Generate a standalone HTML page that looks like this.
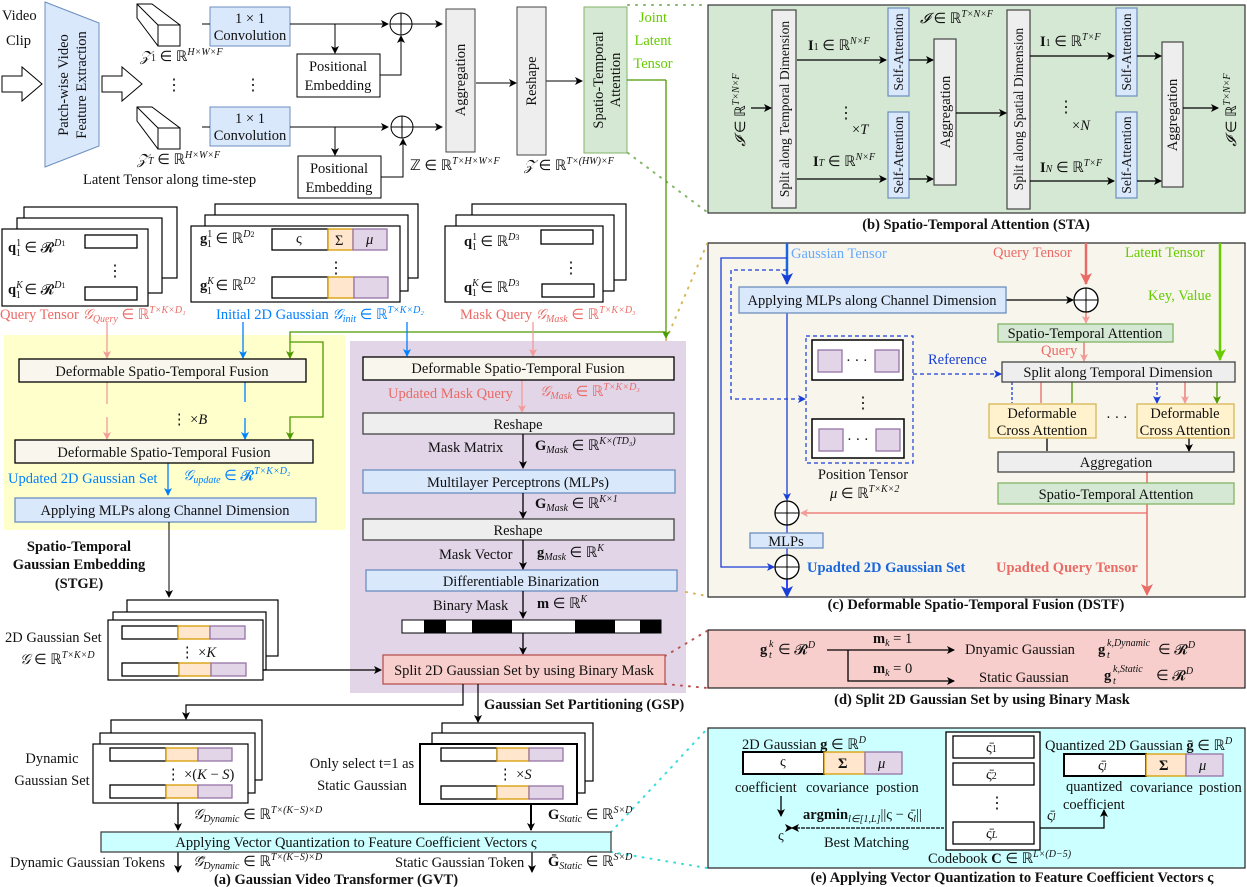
<!DOCTYPE html>
<html><head><meta charset="utf-8"><style>
body{margin:0;background:#fff}
svg{display:block;font-family:"Liberation Serif",serif;font-size:14.5px}
.t{fill:#111}
.b{font-weight:bold}
.i{font-style:italic}
.s{font-size:13.5px}
</style></head><body>
<svg width="1247" height="887" viewBox="0 0 1247 887" xmlns="http://www.w3.org/2000/svg">
<defs>
<marker id="ak" markerWidth="8" markerHeight="8" refX="7" refY="4" orient="auto" markerUnits="userSpaceOnUse"><path d="M0,0 L8,4 L0,8 L2,4z" fill="#000"/></marker>
<marker id="ap" markerWidth="8" markerHeight="8" refX="7" refY="4" orient="auto" markerUnits="userSpaceOnUse"><path d="M0,0 L8,4 L0,8 L2,4z" fill="#f19c99"/></marker>
<marker id="ar" markerWidth="12" markerHeight="12" refX="11" refY="6" orient="auto" markerUnits="userSpaceOnUse"><path d="M0,0 L12,6 L0,12 L3,6z" fill="#ea6b66"/></marker>
<marker id="ab" markerWidth="8" markerHeight="8" refX="7" refY="4" orient="auto" markerUnits="userSpaceOnUse"><path d="M0,0 L8,4 L0,8 L2,4z" fill="#007fff"/></marker>
<marker id="abd" markerWidth="8" markerHeight="8" refX="7" refY="4" orient="auto" markerUnits="userSpaceOnUse"><path d="M0,0 L8,4 L0,8 L2,4z" fill="#1a3fd6"/></marker>
<marker id="abb" markerWidth="12" markerHeight="12" refX="11" refY="6" orient="auto" markerUnits="userSpaceOnUse"><path d="M0,0 L12,6 L0,12 L3,6z" fill="#1a3fd6"/></marker>
<marker id="ag" markerWidth="8" markerHeight="8" refX="7" refY="4" orient="auto" markerUnits="userSpaceOnUse"><path d="M0,0 L8,4 L0,8 L2,4z" fill="#4d9900"/></marker>
<marker id="agb" markerWidth="12" markerHeight="12" refX="11" refY="6" orient="auto" markerUnits="userSpaceOnUse"><path d="M0,0 L12,6 L0,12 L3,6z" fill="#66cc00"/></marker>
</defs>

<rect x="4" y="335" width="341" height="195" fill="#ffffcc"/>
<rect x="350" y="341" width="336" height="352" fill="#e1d5e7"/>
<rect x="708" y="5" width="537" height="208" fill="#d5e8d4" stroke="#333" stroke-width="1.2"/>
<rect x="708" y="243" width="537" height="354" fill="#f8f5ec" stroke="#222" stroke-width="1.2"/>
<rect x="708" y="630" width="537" height="58" fill="#f8cecc" stroke="#222" stroke-width="1.2"/>
<rect x="708" y="728" width="537" height="140" fill="#ccffff" stroke="#222" stroke-width="1.2"/>

<g stroke-width="2" stroke-dasharray="1,7" fill="none" stroke-linecap="round">
<path d="M628,5 L707,5 M628,153 L707,212" stroke="#82b366"/>
<path d="M666,340 L707,244 M686,592 L707,596" stroke="#d6b656"/>
<path d="M665,656 L707,631 M665,684 L707,688" stroke="#b85450"/>
<path d="M611,832 L707,729 M611,852 L707,868" stroke="#33dddd"/>
</g>

<!-- TOP ROW -->
<text x="2" y="20" class="t">Video</text><text x="6" y="45" class="t">Clip</text>
<path d="M2,76 L22,76 L22,67 L42,84 L22,101 L22,92 L2,92z" fill="#fff" stroke="#000"/>
<path d="M45,2 L99,23 L99,146 L45,167z" fill="#dae8fc" stroke="#6c8ebf"/>
<text transform="translate(68,85) rotate(-90)" text-anchor="middle" class="t">Patch-wise Video</text>
<text transform="translate(86,85) rotate(-90)" text-anchor="middle" class="t">Feature Extraction</text>
<path d="M102,76 L122,76 L122,67 L142,84 L122,101 L122,92 L102,92z" fill="#fff" stroke="#000"/>
<g fill="#fff" stroke="#000">
<path d="M137,4 L152,4 L180,25 L180,46 L158,46 L137,18z"/><path d="M158,25 L180,25 L180,46 L158,46z"/><path d="M137,4 L158,25"/>
<path d="M137,107 L152,107 L180,128 L180,149 L158,149 L137,121z"/><path d="M158,128 L180,128 L180,149 L158,149z"/><path d="M137,107 L158,128"/>
</g>
<text x="140" y="61" class="t"><tspan class="i">𝒵</tspan><tspan font-size="10">1</tspan> ∈ ℝ<tspan font-size="10" dy="-6" class="i">H×W×F</tspan></text>
<text x="137" y="164" class="t"><tspan class="i">𝒵</tspan><tspan font-size="10" class="i">T</tspan> ∈ ℝ<tspan font-size="10" dy="-6" class="i">H×W×F</tspan></text>
<text x="83" y="184" class="t">Latent Tensor along time-step</text>
<text x="166" y="90" class="t" font-size="16">⋮</text><text x="245" y="90" class="t" font-size="16">⋮</text>
<rect x="210" y="7" width="80" height="39" fill="#dae8fc" stroke="#6c8ebf"/>
<text x="250" y="23" text-anchor="middle" class="t">1 × 1</text><text x="250" y="40" text-anchor="middle" class="t">Convolution</text>
<rect x="210" y="107" width="80" height="39" fill="#dae8fc" stroke="#6c8ebf"/>
<text x="250" y="123" text-anchor="middle" class="t">1 × 1</text><text x="250" y="140" text-anchor="middle" class="t">Convolution</text>
<g stroke="#000" fill="none">
<path d="M202,24 L210,24 M290,24 L388,24" marker-end="url(#ak)"/>
<path d="M202,127 L210,127 M290,127 L388,127" marker-end="url(#ak)"/>
<path d="M335,24 L335,53" marker-end="url(#ak)"/>
<path d="M335,127 L335,155" marker-end="url(#ak)"/>
<path d="M380,75 L401,75 L401,36" marker-end="url(#ak)"/>
<path d="M380,177 L403,177 L403,139" marker-end="url(#ak)"/>
<path d="M412,24 L442,24" marker-end="url(#ak)"/>
<path d="M413,127 L442,127" marker-end="url(#ak)"/>
<path d="M476,83 L516,83" marker-end="url(#ak)"/>
<path d="M546,81 L582,81" marker-end="url(#ak)"/>
</g>
<rect x="297" y="54" width="83" height="43" fill="#fff" stroke="#000"/>
<text x="338" y="71" text-anchor="middle" class="t">Positional</text><text x="338" y="90" text-anchor="middle" class="t">Embedding</text>
<rect x="298" y="156" width="83" height="42" fill="#fff" stroke="#000"/>
<text x="339" y="173" text-anchor="middle" class="t">Positional</text><text x="339" y="192" text-anchor="middle" class="t">Embedding</text>
<g fill="#fff" stroke="#000"><circle cx="401" cy="24" r="11"/><circle cx="402" cy="127" r="11"/></g>
<path d="M390,24 H412 M401,13 V35 M391,127 H413 M402,116 V138" stroke="#000"/>
<rect x="446" y="9" width="29" height="143" fill="#eeeeee" stroke="#444"/>
<text transform="translate(465,80) rotate(-90)" text-anchor="middle" class="t">Aggregation</text>
<rect x="517" y="7" width="29" height="148" fill="#eeeeee" stroke="#444"/>
<text transform="translate(536,81) rotate(-90)" text-anchor="middle" class="t">Reshape</text>
<rect x="584" y="7" width="43" height="146" fill="#d5e8d4" stroke="#82b366"/>
<text transform="translate(603,80) rotate(-90)" text-anchor="middle" class="t">Spatio-Temporal</text>
<text transform="translate(620,80) rotate(-90)" text-anchor="middle" class="t">Attention</text>
<text x="653" y="22" text-anchor="middle" fill="#66cc00">Joint</text>
<text x="653" y="45" text-anchor="middle" fill="#66cc00">Latent</text>
<text x="653" y="68" text-anchor="middle" fill="#66cc00">Tensor</text>
<text x="410" y="170" class="t">ℤ ∈ ℝ<tspan font-size="10" dy="-6" class="i">T×H×W×F</tspan></text>
<text x="524" y="170" class="t"><tspan class="i">𝒵</tspan> ∈ ℝ<tspan font-size="10" dy="-6" class="i">T×(HW)×F</tspan></text>

<!-- CARDS -->
<g fill="#fff" stroke="#000" stroke-width="1.2">
<rect x="24" y="207" width="153" height="71"/><rect x="17" y="218" width="145" height="75"/><rect x="2" y="229" width="146" height="77"/>
<rect x="215" y="204" width="203" height="74"/><rect x="205" y="215" width="203" height="76"/><rect x="191" y="226" width="209" height="76"/>
<rect x="472" y="204" width="154" height="76"/><rect x="456" y="215" width="158" height="76"/><rect x="445" y="226" width="158" height="76"/>
</g>
<g stroke="#000" stroke-width="1.3" fill="#fff">
<rect x="85" y="235" width="52" height="13"/><rect x="85" y="287" width="52" height="13"/>
<rect x="541" y="230" width="52" height="14"/><rect x="542" y="284" width="52" height="13"/>
</g>
<text x="8" y="252" class="t"><tspan class="b">q</tspan><tspan font-size="10" dy="-6">1</tspan><tspan font-size="10" dx="-5" dy="10">1</tspan><tspan dy="-4"> ∈ 𝓡</tspan><tspan font-size="10" dy="-6" class="i">D</tspan><tspan font-size="8">1</tspan></text>
<text x="8" y="294" class="t"><tspan class="b">q</tspan><tspan font-size="10" dy="-6" class="i">K</tspan><tspan font-size="10" dx="-7" dy="10">1</tspan><tspan dy="-4"> ∈ 𝓡</tspan><tspan font-size="10" dy="-6" class="i">D</tspan><tspan font-size="8">1</tspan></text>
<text x="107" y="276" class="t" font-size="16">⋮</text>
<text x="200" y="243" class="t"><tspan class="b">g</tspan><tspan font-size="10" dy="-6">1</tspan><tspan font-size="10" dx="-5" dy="10">1</tspan><tspan dy="-4"> ∈ ℝ</tspan><tspan font-size="10" dy="-6" class="i">D</tspan><tspan font-size="8">2</tspan></text>
<text x="200" y="290" class="t"><tspan class="b">g</tspan><tspan font-size="10" dy="-6" class="i">K</tspan><tspan font-size="10" dx="-7" dy="10">1</tspan><tspan dy="-4"> ∈ ℝ</tspan><tspan font-size="10" dy="-6" class="i">D2</tspan></text>
<g stroke-width="1.3"><rect x="272" y="229" width="56" height="21" fill="#fff" stroke="#000"/><rect x="328" y="229" width="25" height="21" fill="#ffe6cc" stroke="#d79b00"/><rect x="353" y="229" width="34" height="21" fill="#e1d5e7" stroke="#9673a6"/>
<rect x="272" y="277" width="56" height="21" fill="#fff" stroke="#000"/><rect x="328" y="277" width="26" height="21" fill="#ffe6cc" stroke="#d79b00"/><rect x="354" y="277" width="34" height="21" fill="#e1d5e7" stroke="#9673a6"/></g>
<text x="296" y="243" class="t">ς</text><text x="335" y="245" class="t">Σ</text><text x="366" y="244" class="t i">μ</text>
<text x="328" y="273" class="t" font-size="16">⋮</text>
<text x="464" y="246" class="t"><tspan class="b">q</tspan><tspan font-size="10" dy="-6">1</tspan><tspan font-size="10" dx="-5" dy="10">1</tspan><tspan dy="-4"> ∈ ℝ</tspan><tspan font-size="10" dy="-6" class="i">D</tspan><tspan font-size="8">3</tspan></text>
<text x="464" y="292" class="t"><tspan class="b">q</tspan><tspan font-size="10" dy="-6" class="i">K</tspan><tspan font-size="10" dx="-7" dy="10">1</tspan><tspan dy="-4"> ∈ ℝ</tspan><tspan font-size="10" dy="-6" class="i">D</tspan><tspan font-size="8">3</tspan></text>
<text x="563" y="273" class="t" font-size="16">⋮</text>
<text x="0" y="319" fill="#ea6b66">Query Tensor  <tspan class="i">𝒢</tspan><tspan font-size="10" class="i" dy="3">Query</tspan><tspan dy="-3"> ∈ ℝ</tspan><tspan font-size="10" class="i" dy="-6">T×K×D₁</tspan></text>
<text x="216" y="319" fill="#007fff">Initial 2D Gaussian  <tspan class="i">𝒢</tspan><tspan font-size="10" class="i" dy="3">init</tspan><tspan dy="-3"> ∈ ℝ</tspan><tspan font-size="10" class="i" dy="-6">T×K×D₂</tspan></text>
<text x="460" y="319" fill="#ea6b66">Mask Query  <tspan class="i">𝒢</tspan><tspan font-size="10" class="i" dy="3">Mask</tspan><tspan dy="-3"> ∈ ℝ</tspan><tspan font-size="10" class="i" dy="-6">T×K×D₃</tspan></text>

<!-- STGE -->
<g fill="none" stroke-width="1.3">
<path d="M107,322 L107,358" stroke="#f19c99" marker-end="url(#ap)"/>
<path d="M107,382 L107,404 M107,417 L107,439" stroke="#f19c99" marker-end="url(#ap)"/>
<path d="M243,322 L243,358" stroke="#007fff" marker-end="url(#ab)"/>
<path d="M245,382 L245,402 M245,418 L245,439" stroke="#007fff" marker-end="url(#ab)"/>
<path d="M168,463 L168,495" stroke="#007fff" marker-end="url(#ab)"/>
<path d="M666,80 L666,338" stroke="#4d9900" marker-end="url(#ag)"/>
<path d="M627,80 L666,80 M666,332 L290,332 L290,358" stroke="#4d9900" marker-end="url(#ag)"/>
<path d="M290,342 L323,342 L323,417 L290,417 L290,439" stroke="#4d9900" marker-end="url(#ag)"/>
<path d="M407,322 L407,356" stroke="#007fff" marker-end="url(#ab)"/>
<path d="M533,322 L533,356" stroke="#f19c99" marker-end="url(#ap)"/>
<path d="M522,380 L522,412" stroke="#f19c99" marker-end="url(#ap)"/>
</g>
<rect x="19" y="359" width="287" height="23" fill="#f9f7ed" stroke="#000" stroke-width="1.3"/>
<text x="162" y="376" text-anchor="middle" class="t">Deformable Spatio-Temporal Fusion</text>
<text x="172" y="424" class="t">⋮ ×<tspan class="i">B</tspan></text>
<rect x="15" y="440" width="298" height="23" fill="#f9f7ed" stroke="#000" stroke-width="1.3"/>
<text x="164" y="457" text-anchor="middle" class="t">Deformable Spatio-Temporal Fusion</text>
<text x="8" y="483" fill="#007fff">Updated 2D Gaussian Set</text>
<text x="183" y="480" fill="#007fff"><tspan class="i">𝒢</tspan><tspan font-size="10" class="i" dy="3">update</tspan><tspan dy="-3"> ∈ 𝓡</tspan><tspan font-size="10" class="i" dy="-6">T×K×D₂</tspan></text>
<rect x="15" y="498" width="301" height="24" fill="#dae8fc" stroke="#6c8ebf" stroke-width="1.3"/>
<text x="165" y="515" text-anchor="middle" class="t">Applying MLPs along Channel Dimension</text>
<text x="79" y="551" text-anchor="middle" class="t b">Spatio-Temporal</text>
<text x="79" y="569" text-anchor="middle" class="t b">Gaussian Embedding</text>
<text x="79" y="588" text-anchor="middle" class="t b">(STGE)</text>
<path d="M169,522 L169,597" stroke="#000" fill="none" marker-end="url(#ak)"/>
<g fill="#fff" stroke="#000" stroke-width="1.2"><rect x="127" y="600" width="151" height="56"/><rect x="113" y="612" width="153" height="58"/><rect x="108" y="620" width="155" height="60"/></g>
<g stroke-width="1.3"><rect x="122" y="626" width="56" height="13" fill="#fff" stroke="#000"/><rect x="178" y="626" width="32" height="13" fill="#ffe6cc" stroke="#d79b00"/><rect x="210" y="626" width="35" height="13" fill="#e1d5e7" stroke="#9673a6"/>
<rect x="122" y="663" width="57" height="13" fill="#fff" stroke="#000"/><rect x="179" y="663" width="32" height="13" fill="#ffe6cc" stroke="#d79b00"/><rect x="211" y="663" width="35" height="13" fill="#e1d5e7" stroke="#9673a6"/></g>
<text x="180" y="657" class="t">⋮ ×<tspan class="i">K</tspan></text>
<text x="5" y="642" class="t">2D Gaussian Set</text>
<text x="20" y="664" class="t"><tspan class="i">𝒢</tspan> ∈ ℝ<tspan font-size="10" class="i" dy="-6">T×K×D</tspan></text>
<path d="M263,670 L381,670" stroke="#000" stroke-width="1.3" fill="none" marker-end="url(#ak)"/>

<!-- GSP -->
<rect x="363" y="357" width="311" height="23" fill="#f9f7ed" stroke="#000" stroke-width="1.3"/>
<text x="518" y="373" text-anchor="middle" class="t">Deformable Spatio-Temporal Fusion</text>
<text x="388" y="398" fill="#ea6b66">Updated Mask Query</text>
<text x="540" y="396" fill="#ea6b66"><tspan class="i">𝒢</tspan><tspan font-size="10" class="i" dy="3">Mask</tspan><tspan dy="-3"> ∈ ℝ</tspan><tspan font-size="10" class="i" dy="-6">T×K×D₃</tspan></text>
<rect x="363" y="413" width="311" height="21" fill="#eeeeee" stroke="#444" stroke-width="1.3"/>
<text x="518" y="429" text-anchor="middle" class="t">Reshape</text>
<text x="428" y="452" class="t">Mask Matrix</text>
<text x="535" y="450" class="t"><tspan class="b">G</tspan><tspan font-size="10" class="i" dy="3">Mask</tspan><tspan dy="-3"> ∈ ℝ</tspan><tspan font-size="10" class="i" dy="-6">K×(TD₃)</tspan></text>
<rect x="363" y="470" width="312" height="23" fill="#dae8fc" stroke="#6c8ebf" stroke-width="1.3"/>
<text x="518" y="487" text-anchor="middle" class="t">Multilayer Perceptrons (MLPs)</text>
<text x="535" y="508" class="t"><tspan class="b">G</tspan><tspan font-size="10" class="i" dy="3">Mask</tspan><tspan dy="-3"> ∈ ℝ</tspan><tspan font-size="10" class="i" dy="-6">K×1</tspan></text>
<rect x="363" y="519" width="311" height="21" fill="#eeeeee" stroke="#444" stroke-width="1.3"/>
<text x="518" y="535" text-anchor="middle" class="t">Reshape</text>
<text x="439" y="559" class="t">Mask Vector</text>
<text x="537" y="557" class="t"><tspan class="b">g</tspan><tspan font-size="10" class="i" dy="3">Mask</tspan><tspan dy="-3"> ∈ ℝ</tspan><tspan font-size="10" class="i" dy="-6">K</tspan></text>
<rect x="366" y="570" width="311" height="21" fill="#dae8fc" stroke="#6c8ebf" stroke-width="1.3"/>
<text x="521" y="586" text-anchor="middle" class="t">Differentiable Binarization</text>
<text x="433" y="610" class="t">Binary Mask</text>
<text x="537" y="608" class="t"><tspan class="b">m</tspan> ∈ ℝ<tspan font-size="10" class="i" dy="-6">K</tspan></text>
<rect x="402" y="620" width="259" height="13" fill="#fff" stroke="#000"/>
<g fill="#000"><rect x="424" y="620" width="22" height="13"/><rect x="472" y="620" width="40" height="13"/><rect x="575" y="620" width="40" height="13"/><rect x="640" y="620" width="21" height="13"/></g>
<g stroke="#000" fill="none" stroke-width="1.3">
<path d="M523,434 L523,468" marker-end="url(#ak)"/>
<path d="M523,493 L523,518" marker-end="url(#ak)"/>
<path d="M523,540 L523,569" marker-end="url(#ak)"/>
<path d="M523,591 L523,618" marker-end="url(#ak)"/>
<path d="M523,633 L523,654" marker-end="url(#ak)"/>
</g>
<rect x="383" y="655" width="282" height="29" fill="#f8cecc" stroke="#b85450" stroke-width="1.3"/>
<text x="524" y="675" text-anchor="middle" class="t">Split 2D Gaussian Set by using Binary Mask</text>
<text x="484" y="709" class="t b">Gaussian Set Partitioning (GSP)</text>
<g stroke="#000" fill="none" stroke-width="1.2">
<path d="M463,684 L463,705 L186,705 L186,719" marker-end="url(#ak)"/>
<path d="M478,684 L478,722" marker-end="url(#ak)"/>
</g>

<g fill="#fff" stroke="#000" stroke-width="1.2"><rect x="111" y="720" width="151" height="60"/><rect x="100" y="733" width="155" height="60"/><rect x="93" y="744" width="155" height="59"/>
<rect x="442" y="723" width="151" height="58"/><rect x="432" y="733" width="153" height="60"/><rect x="420" y="744" width="157" height="60" stroke-width="2"/></g>
<g stroke-width="1.3"><rect x="110" y="748" width="56" height="13" fill="#fff" stroke="#000"/><rect x="166" y="748" width="32" height="13" fill="#ffe6cc" stroke="#d79b00"/><rect x="198" y="748" width="34" height="13" fill="#e1d5e7" stroke="#9673a6"/>
<rect x="110" y="785" width="56" height="13" fill="#fff" stroke="#000"/><rect x="166" y="785" width="32" height="13" fill="#ffe6cc" stroke="#d79b00"/><rect x="198" y="785" width="34" height="13" fill="#e1d5e7" stroke="#9673a6"/>
<rect x="441" y="748" width="56" height="13" fill="#fff" stroke="#000"/><rect x="497" y="748" width="32" height="13" fill="#ffe6cc" stroke="#d79b00"/><rect x="529" y="748" width="34" height="13" fill="#e1d5e7" stroke="#9673a6"/>
<rect x="441" y="786" width="56" height="13" fill="#fff" stroke="#000"/><rect x="497" y="786" width="32" height="13" fill="#ffe6cc" stroke="#d79b00"/><rect x="529" y="786" width="34" height="13" fill="#e1d5e7" stroke="#9673a6"/></g>
<text x="166" y="779" class="t">⋮ ×(<tspan class="i">K</tspan> − <tspan class="i">S</tspan>)</text>
<text x="498" y="779" class="t">⋮ ×<tspan class="i">S</tspan></text>
<text x="52" y="763" text-anchor="middle" class="t">Dynamic</text><text x="52" y="785" text-anchor="middle" class="t">Gaussian Set</text>
<text x="362" y="768" text-anchor="middle" class="t">Only select t=1 as</text><text x="362" y="790" text-anchor="middle" class="t">Static Gaussian</text>
<text x="193" y="819" class="t"><tspan class="i">𝒢</tspan><tspan font-size="10" class="i" dy="3">Dynamic</tspan><tspan dy="-3"> ∈ ℝ</tspan><tspan font-size="10" class="i" dy="-6">T×(K−S)×D</tspan></text>
<text x="548" y="819" class="t"><tspan class="b">G</tspan><tspan font-size="10" class="i" dy="3">Static</tspan><tspan dy="-3"> ∈ ℝ</tspan><tspan font-size="10" class="i" dy="-6">S×D</tspan></text>
<g stroke="#000" fill="none" stroke-width="1.3">
<path d="M178,803 L178,830" marker-end="url(#ak)"/>
<path d="M531,804 L531,830" stroke-width="2" marker-end="url(#ak)"/>
<path d="M178,852 L178,872" marker-end="url(#ak)"/>
<path d="M532,852 L532,872" marker-end="url(#ak)"/>
</g>
<rect x="101" y="832" width="510" height="20" fill="#ccffff" stroke="#444" stroke-width="1.3"/>
<text x="356" y="847" text-anchor="middle" class="t">Applying Vector Quantization to Feature Coefficient Vectors ς</text>
<text x="10" y="867" class="t">Dynamic Gaussian Tokens</text>
<text x="193" y="866" class="t"><tspan class="i">𝒢̄</tspan><tspan font-size="10" class="i" dy="3">Dynamic</tspan><tspan dy="-3"> ∈ ℝ</tspan><tspan font-size="10" class="i" dy="-6">T×(K−S)×D</tspan></text>
<text x="395" y="867" class="t">Static Gaussian Token</text>
<text x="548" y="866" class="t"><tspan class="b">Ḡ</tspan><tspan font-size="10" class="i" dy="3">Static</tspan><tspan dy="-3"> ∈ ℝ</tspan><tspan font-size="10" class="i" dy="-6">S×D</tspan></text>
<text x="336" y="884" text-anchor="middle" class="t b">(a) Gaussian Video Transformer (GVT)</text>

<!-- (b) STA -->
<g fill="#eeeeee" stroke="#444" stroke-width="1.2">
<rect x="772" y="10" width="24" height="198"/><rect x="934" y="39" width="22" height="146"/>
<rect x="1007" y="10" width="23" height="199"/><rect x="1162" y="42" width="21" height="145"/></g>
<g fill="#dae8fc" stroke="#6c8ebf" stroke-width="1.2">
<rect x="888" y="8" width="21" height="88"/><rect x="888" y="112" width="21" height="86"/>
<rect x="1116" y="8" width="21" height="88"/><rect x="1116" y="112" width="21" height="86"/></g>
<g class="t" text-anchor="middle">
<text transform="translate(789,109) rotate(-90)" class="s">Split along Temporal Dimension</text>
<text transform="translate(950,112) rotate(-90)">Aggregation</text>
<text transform="translate(1023,109) rotate(-90)" class="s">Split along Spatial Dimension</text>
<text transform="translate(1177,115) rotate(-90)">Aggregation</text>
<text transform="translate(903,52) rotate(-90)" class="s">Self-Attention</text>
<text transform="translate(903,155) rotate(-90)" class="s">Self-Attention</text>
<text transform="translate(1131,52) rotate(-90)" class="s">Self-Attention</text>
<text transform="translate(1131,155) rotate(-90)" class="s">Self-Attention</text>
<text transform="translate(745,110) rotate(-90)"><tspan class="i">𝓘</tspan> ∈ ℝ<tspan font-size="10" class="i" dy="-6">T×N×F</tspan></text>
<text transform="translate(1236,110) rotate(-90)"><tspan class="i">𝓘</tspan> ∈ ℝ<tspan font-size="10" class="i" dy="-6">T×N×F</tspan></text>
</g>
<g stroke="#000" fill="none" stroke-width="1.3">
<path d="M751,108 L771,108" marker-end="url(#ak)"/>
<path d="M797,60 L886,60" marker-end="url(#ak)"/><path d="M797,179 L886,179" marker-end="url(#ak)"/>
<path d="M909,60 L933,60" marker-end="url(#ak)"/><path d="M909,179 L933,179" marker-end="url(#ak)"/>
<path d="M956,113 L1006,113" marker-end="url(#ak)"/>
<path d="M1030,56 L1114,56" marker-end="url(#ak)"/><path d="M1030,181 L1114,181" marker-end="url(#ak)"/>
<path d="M1137,56 L1161,56" marker-end="url(#ak)"/><path d="M1137,181 L1161,181" marker-end="url(#ak)"/>
<path d="M1183,108 L1218,108" marker-end="url(#ak)"/>
</g>
<text x="808" y="50" class="t"><tspan class="b">I</tspan><tspan font-size="10">1</tspan> ∈ ℝ<tspan font-size="10" class="i" dy="-6">N×F</tspan></text>
<text x="813" y="166" class="t"><tspan class="b">I</tspan><tspan font-size="10" class="i">T</tspan> ∈ ℝ<tspan font-size="10" class="i" dy="-6">N×F</tspan></text>
<text x="920" y="23" class="t"><tspan class="i">𝓘</tspan> ∈ ℝ<tspan font-size="10" class="i" dy="-6">T×N×F</tspan></text>
<text x="1040" y="46" class="t"><tspan class="b">I</tspan><tspan font-size="10">1</tspan> ∈ ℝ<tspan font-size="10" class="i" dy="-6">T×F</tspan></text>
<text x="1040" y="172" class="t"><tspan class="b">I</tspan><tspan font-size="10" class="i">N</tspan> ∈ ℝ<tspan font-size="10" class="i" dy="-6">T×F</tspan></text>
<text x="838" y="118" class="t" font-size="16">⋮</text><text x="852" y="134" class="t">×<tspan class="i">T</tspan></text>
<text x="1058" y="112" class="t" font-size="16">⋮</text><text x="1072" y="130" class="t">×<tspan class="i">N</tspan></text>
<text x="976" y="229" text-anchor="middle" class="t b">(b) Spatio-Temporal Attention (STA)</text>

<!-- (c) DSTF -->
<text x="791" y="258" fill="#66aaff">Gaussian Tensor</text>
<text x="993" y="257" fill="#ea6b66">Query Tensor</text>
<text x="1125" y="257" fill="#66cc00">Latent Tensor</text>
<text x="1148" y="300" fill="#66cc00">Key, Value</text>
<g fill="none">
<path d="M787,243 L787,284" stroke="#1a66dd" stroke-width="2.5" marker-end="url(#abb)"/>
<path d="M1086,243 L1086,284" stroke="#ea6b66" stroke-width="2.5" marker-end="url(#ar)"/>
<path d="M1220,243 L1220,360" stroke="#66cc00" stroke-width="2.5" marker-end="url(#agb)"/>
<path d="M787,258 L721,258 L721,567 L774,567" stroke="#1a3fd6" stroke-width="1.3" marker-end="url(#abd)"/>
<path d="M787,270 L731,270 L731,399 L805,399" stroke="#1a3fd6" stroke-width="1.3" stroke-dasharray="4,3" marker-end="url(#abd)"/>
<path d="M787,313 L787,500" stroke="#1a3fd6" stroke-width="1.3" marker-end="url(#abd)"/>
<path d="M787,525 L787,533 M787,548 L787,555" stroke="#1a3fd6" stroke-width="1.3"/>
<path d="M787,579 L787,597" stroke="#3344ff" stroke-width="2" marker-end="url(#abb)"/>
<path d="M1006,300 L1073,300" stroke="#000" stroke-width="1.3" marker-end="url(#ak)"/>
<path d="M1086,312 L1086,323" stroke="#ea6b66" stroke-width="1.3" marker-end="url(#ap)"/>
<path d="M1084,342 L1084,361" stroke="#ea6b66" stroke-width="1.3" marker-end="url(#ap)"/>
<path d="M913,374 L1001,374" stroke="#1a3fd6" stroke-width="1.3" stroke-dasharray="4,3" marker-end="url(#abd)"/>
<path d="M1012,382 L1012,403 M1157,382 L1157,403" stroke="#1a3fd6" stroke-width="1.3" stroke-dasharray="3,2" marker-end="url(#abd)"/>
<path d="M1041,382 L1041,403 M1185,382 L1185,403" stroke="#ea6b66" stroke-width="1.3" marker-end="url(#ap)"/>
<path d="M1072,382 L1072,403 M1217,382 L1217,403" stroke="#4d9900" stroke-width="1.3" marker-end="url(#ag)"/>
<path d="M1047,438 L1047,451 M1189,438 L1189,451" stroke="#000" stroke-width="1.3" marker-end="url(#ak)"/>
<path d="M1147,472 L1147,483 M1147,504 L1147,595" stroke="#ea6b66" stroke-width="1.5" marker-end="url(#ar)"/>
<path d="M1147,513 L801,513" stroke="#ea6b66" stroke-width="1.3" marker-end="url(#ap)"/>
</g>
<rect x="739" y="287" width="267" height="26" fill="#dae8fc" stroke="#6c8ebf" stroke-width="1.3"/>
<text x="872" y="305" text-anchor="middle" class="t">Applying MLPs along Channel Dimension</text>
<circle cx="1086" cy="300" r="12" fill="#fff" stroke="#000" stroke-width="1.3"/><path d="M1074,300 H1098 M1086,288 V312" stroke="#000"/>
<rect x="998" y="324" width="175" height="18" fill="#d5e8d4" stroke="#82b366" stroke-width="1.3"/>
<text x="1085" y="338" text-anchor="middle" class="t">Spatio-Temporal Attention</text>
<text x="1041" y="355" fill="#ea6b66">Query</text>
<rect x="1002" y="362" width="233" height="20" fill="#eeeeee" stroke="#444" stroke-width="1.3"/>
<text x="1118" y="377" text-anchor="middle" class="t">Split along Temporal Dimension</text>
<text x="928" y="364" fill="#1a3fd6">Reference</text>
<rect x="806" y="336" width="107" height="127" fill="none" stroke="#1a3fd6" stroke-width="1.2" stroke-dasharray="4,3"/>
<rect x="812" y="340" width="91" height="40" fill="#fff" stroke="#000" stroke-width="1.5"/>
<rect x="812" y="419" width="92" height="39" fill="#fff" stroke="#000" stroke-width="1.5"/>
<g fill="#e1d5e7" stroke="#9673a6" stroke-width="1.3"><rect x="818" y="350" width="24" height="22"/><rect x="875" y="350" width="24" height="22"/><rect x="819" y="429" width="24" height="22"/><rect x="876" y="429" width="24" height="22"/></g>
<text x="846" y="365" class="t">· · ·</text><text x="847" y="444" class="t">· · ·</text>
<text x="855" y="408" class="t" font-size="16">⋮</text>
<text x="863" y="479" text-anchor="middle" class="t">Position Tensor</text>
<text x="830" y="498" class="t"><tspan class="i">μ</tspan> ∈ ℝ<tspan font-size="10" class="i" dy="-6">T×K×2</tspan></text>
<g fill="#fff2cc" stroke="#d6b656" stroke-width="1.3"><rect x="989" y="404" width="107" height="34"/><rect x="1137" y="404" width="97" height="34"/></g>
<text x="1042" y="418" text-anchor="middle" class="t">Deformable</text><text x="1042" y="435" text-anchor="middle" class="t">Cross Attention</text>
<text x="1185" y="418" text-anchor="middle" class="t">Deformable</text><text x="1185" y="435" text-anchor="middle" class="t">Cross Attention</text>
<text x="1106" y="422" class="t">· · ·</text>
<rect x="998" y="452" width="236" height="20" fill="#eeeeee" stroke="#444" stroke-width="1.3"/>
<text x="1116" y="467" text-anchor="middle" class="t">Aggregation</text>
<rect x="998" y="483" width="236" height="21" fill="#d5e8d4" stroke="#82b366" stroke-width="1.3"/>
<text x="1116" y="499" text-anchor="middle" class="t">Spatio-Temporal Attention</text>
<circle cx="787" cy="513" r="12" fill="#fff" stroke="#000" stroke-width="1.3"/><path d="M775,513 H799 M787,501 V525" stroke="#000"/>
<rect x="750" y="533" width="73" height="15" fill="#dae8fc" stroke="#6c8ebf" stroke-width="1.3"/>
<text x="786" y="546" text-anchor="middle" class="t">MLPs</text>
<circle cx="787" cy="567" r="12" fill="#fff" stroke="#000" stroke-width="1.3"/><path d="M775,567 H799 M787,555 V579" stroke="#000"/>
<text x="807" y="572" fill="#1a66dd" class="b">Upadted 2D Gaussian Set</text>
<text x="996" y="572" fill="#ea6b66" class="b">Upadted Query Tensor</text>
<text x="976" y="609" text-anchor="middle" class="t b">(c) Deformable Spatio-Temporal Fusion (DSTF)</text>

<!-- (d) -->
<text x="760" y="654" class="t b">g</text><text x="769" y="647" class="t i" font-size="10">k</text><text x="769" y="658" class="t i" font-size="10">t</text>
<text x="778" y="654" class="t">∈ 𝓡<tspan font-size="10" class="i" dy="-6">D</tspan></text>
<g stroke="#000" fill="none" stroke-width="1.3"><path d="M827,650 L954,650" marker-end="url(#ak)"/><path d="M848,650 L848,681 L954,681" marker-end="url(#ak)"/></g>
<text x="873" y="643" class="t"><tspan class="b">m</tspan><tspan font-size="10" class="i" dy="3">k</tspan><tspan dy="-3"> = 1</tspan></text>
<text x="873" y="673" class="t"><tspan class="b">m</tspan><tspan font-size="10" class="i" dy="3">k</tspan><tspan dy="-3"> = 0</tspan></text>
<text x="965" y="654" class="t">Dnyamic  Gaussian</text>
<text x="1098" y="654" class="t b">g</text><text x="1107" y="646" class="t i" font-size="10">k,Dynamic</text><text x="1107" y="658" class="t i" font-size="10">t</text>
<text x="1158" y="654" class="t">∈ 𝓡<tspan font-size="10" class="i" dy="-6">D</tspan></text>
<text x="979" y="682" class="t">Static  Gaussian</text>
<text x="1104" y="680" class="t b">g</text><text x="1113" y="672" class="t i" font-size="10">k,Static</text><text x="1113" y="684" class="t i" font-size="10">t</text>
<text x="1156" y="680" class="t">∈ 𝓡<tspan font-size="10" class="i" dy="-6">D</tspan></text>
<text x="982" y="704" text-anchor="middle" class="t b">(d) Split 2D Gaussian Set by using Binary Mask</text>

<!-- (e) -->
<text x="742" y="749" class="t">2D Gaussian  <tspan class="b">g</tspan> ∈ ℝ<tspan font-size="10" class="i" dy="-6">D</tspan></text>
<rect x="743" y="752" width="81" height="22" fill="#fff" stroke="#000" stroke-width="2"/>
<rect x="824" y="752" width="41" height="22" fill="#ffe6cc" stroke="#d79b00" stroke-width="1.3"/>
<rect x="865" y="752" width="37" height="22" fill="#e1d5e7" stroke="#9673a6" stroke-width="1.3"/>
<text x="780" y="766" class="t">ς</text><text x="838" y="768" class="t b">Σ</text><text x="878" y="768" class="t i">μ</text>
<text x="735" y="792" class="t">coefficient</text><text x="806" y="792" class="t">covariance</text><text x="876" y="792" class="t">postion</text>
<path d="M781,796 L781,816" stroke="#000" stroke-width="1.3" fill="none" marker-end="url(#ak)"/>
<text x="778" y="840" class="t">ς</text>
<path d="M792,828 L943,828 M944,828 L792,828" stroke="#000" stroke-width="1.2" stroke-dasharray="3,2" fill="none" marker-end="url(#ak)" marker-start="url(#ak)"/>
<text x="803" y="819" class="t"><tspan class="b">argmin</tspan><tspan font-size="10" class="i" dy="3">l∈[1,L]</tspan><tspan dy="-3">||ς − ς̄</tspan><tspan font-size="10" class="i" dy="3">l</tspan><tspan dy="-3">||</tspan></text>
<text x="824" y="847" class="t">Best Matching</text>
<rect x="946" y="732" width="94" height="118" fill="#fff" stroke="#000" stroke-width="1.3"/>
<g fill="#fff" stroke="#000" stroke-width="1.3"><rect x="953" y="736" width="81" height="22"/><rect x="953" y="763" width="81" height="22"/><rect x="953" y="822" width="81" height="22"/></g>
<text x="986" y="752" class="t">ς̄<tspan font-size="10">1</tspan></text><text x="986" y="779" class="t">ς̄<tspan font-size="10">2</tspan></text><text x="986" y="838" class="t">ς̄<tspan font-size="10" class="i">L</tspan></text>
<text x="989" y="808" class="t" font-size="16">⋮</text>
<text x="928" y="863" class="t">Codebook  <tspan class="b">C</tspan> ∈ ℝ<tspan font-size="10" class="i" dy="-6">L×(D−5)</tspan></text>
<text x="1045" y="750" class="t">Quantized 2D Gaussian  <tspan class="b">ḡ</tspan> ∈ ℝ<tspan font-size="10" class="i" dy="-6">D</tspan></text>
<rect x="1064" y="754" width="82" height="22" fill="#fff" stroke="#000" stroke-width="2"/>
<rect x="1146" y="754" width="40" height="22" fill="#ffe6cc" stroke="#d79b00" stroke-width="1.3"/>
<rect x="1186" y="754" width="37" height="22" fill="#e1d5e7" stroke="#9673a6" stroke-width="1.3"/>
<text x="1098" y="770" class="t">ς̄<tspan font-size="10" class="i">l</tspan></text><text x="1159" y="770" class="t b">Σ</text><text x="1199" y="770" class="t i">μ</text>
<text x="1066" y="791" class="t">quantized</text><text x="1130" y="792" class="t">covariance</text><text x="1199" y="792" class="t">postion</text>
<text x="1063" y="809" class="t">coefficient</text>
<path d="M1040,828 L1104,828 L1104,810" stroke="#000" stroke-width="1.3" fill="none" marker-end="url(#ak)"/>
<text x="1047" y="820" class="t">ς̄<tspan font-size="10" class="i">l</tspan></text>
<text x="1012" y="882" text-anchor="middle" class="t b">(e) Applying Vector Quantization to Feature Coefficient Vectors ς</text>
</svg>
</body></html>
